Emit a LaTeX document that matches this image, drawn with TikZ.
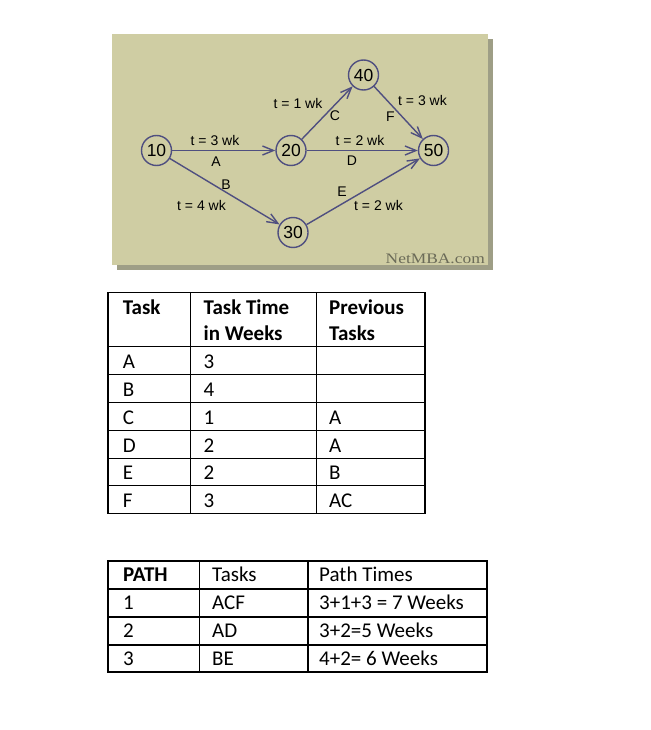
\documentclass[tikz,border=0pt]{standalone}
\usepackage{fontspec}
\usepackage{graphicx}
\setmainfont{Carlito}
\newfontfamily\diagfont{Liberation Sans}
\newfontfamily\logofont{Liberation Serif}
\usetikzlibrary{arrows.meta}
\definecolor{panelc}{HTML}{CFCDA3}
\definecolor{shadec}{HTML}{9E9E86}
\definecolor{edgec}{HTML}{4F4F80}
\definecolor{logoc}{HTML}{6B6B58}
\begin{document}
\begin{tikzpicture}[x=1pt,y=-1pt,
  evt/.style={circle,draw=edgec,line width=1.4pt,minimum size=30pt,inner sep=0pt,font=\diagfont\fontsize{17.5}{17.5}\selectfont},
  act/.style={draw=edgec,line width=1.4pt,-{Straight Barb[length=11pt,width=9pt,line width=1.4pt]}},
  lbl/.style={inner sep=0pt,font=\diagfont\fontsize{14}{14}\selectfont},
  cell/.style={anchor=base west,inner sep=0pt,font=\fontsize{21}{26}\selectfont},
  hcell/.style={cell,font=\bfseries\fontsize{21}{26}\selectfont},
  gridline/.style={line width=1.4pt,draw=black}]
\useasboundingbox (0,0) rectangle (650,730);
\fill[white] (0,0) rectangle (650,730);
% panel
\fill[shadec] (117,39) rectangle (493,270);
\fill[panelc] (112,34) rectangle (488,265);
% events
\node[evt] (n10) at (156.5,150.5) {10};
\node[evt] (n20) at (291,150.5) {20};
\node[evt] (n40) at (363.5,75) {40};
\node[evt] (n50) at (433.5,150.5) {50};
\node[evt] (n30) at (293,232.5) {30};
% activities
\draw[act] (n10) -- (n20);
\draw[act] (n20) -- (n50);
\draw[act] (n20) -- (n40);
\draw[act] (n40) -- (n50);
\draw[act] (n10) -- (n30);
\draw[act] (n30) -- (n50);
% labels
\node[lbl] (la1) at (215,140) {t = 3 wk};
\node[lbl] (la2) at (216,161.5) {A};
\node[lbl] (lc1) at (298,103.5) {t = 1 wk};
\node[lbl] (lc2) at (335,115.5) {C};
\node[lbl] (lf1) at (422.5,100) {t = 3 wk};
\node[lbl] (lf2) at (390.5,117) {F};
\node[lbl] (ld1) at (360,140) {t = 2 wk};
\node[lbl] (ld2) at (352,161) {D};
\node[lbl] (lb2) at (226,185) {B};
\node[lbl] (lb1) at (201.5,205) {t = 4 wk};
\node[lbl] (le2) at (342,191.5) {E};
\node[lbl] (le1) at (378.5,205) {t = 2 wk};
\node[anchor=base east,inner sep=0pt,text=logoc,font=\logofont\fontsize{14.5}{14.5}\selectfont] (logo) at (485,263) {\scalebox{1.2}[1]{NetMBA.com}};
% table 1
\draw[gridline] (108,292.3) rectangle (425,513.3);
\foreach \yy in {346.7,374.3,402.3,430.5,458.3,485.7}
  \draw[gridline] (108,\yy) -- (425,\yy);
\draw[gridline] (190.7,292.3) -- (190.7,513.3);
\draw[gridline] (316.7,292.3) -- (316.7,513.3);
\node[hcell] (h1) at (122.7,314.3) {Task};
\node[hcell] (h2a) at (203.5,314.3) {Task Time};
\node[hcell] (h2b) at (203.5,340.5) {in Weeks};
\node[hcell] (h3a) at (329,314.3) {Previous};
\node[hcell] (h3b) at (329,340.5) {Tasks};
\node[cell] (tA) at (122.7,368) {A};
\node[cell] (tA2) at (203.5,368) {3};
\node[cell] (tB) at (122.7,396) {B};
\node[cell] (tB2) at (203.5,396) {4};
\node[cell] (tC) at (122.7,424) {C};
\node[cell] (tC2) at (203.5,424) {1};
\node[cell] (tC3) at (329,424) {A};
\node[cell] (tD) at (122.7,452) {D};
\node[cell] (tD2) at (203.5,452) {2};
\node[cell] (tD3) at (329,452) {A};
\node[cell] (tE) at (122.7,479.5) {E};
\node[cell] (tE2) at (203.5,479.5) {2};
\node[cell] (tE3) at (329,479.5) {B};
\node[cell] (tF) at (122.7,507) {F};
\node[cell] (tF2) at (203.5,507) {3};
\node[cell] (tF3) at (329,507) {AC};
% table 2
\draw[gridline] (108,561) rectangle (487,672);
\foreach \yy in {589,617,645}
  \draw[gridline] (108,\yy) -- (487,\yy);
\draw[gridline] (199.5,561) -- (199.5,672);
\draw[gridline] (308,561) -- (308,672);
\node[hcell] (p1) at (123,581.5) {PATH};
\node[cell] (p2) at (212,581.5) {Tasks};
\node[cell] (p3) at (319,581.5) {Path Times};
\node[cell] (r1a) at (123,609.5) {1};
\node[cell] (r1b) at (212,609.5) {ACF};
\node[cell] (r1c) at (319,609.5) {3+1+3 = 7 Weeks};
\node[cell] (r2a) at (123,637.5) {2};
\node[cell] (r2b) at (212,637.5) {AD};
\node[cell] (r2c) at (319,637.5) {3+2=5 Weeks};
\node[cell] (r3a) at (123,665) {3};
\node[cell] (r3b) at (212,665) {BE};
\node[cell] (r3c) at (319,665) {4+2= 6 Weeks};
\end{tikzpicture}
\end{document}
